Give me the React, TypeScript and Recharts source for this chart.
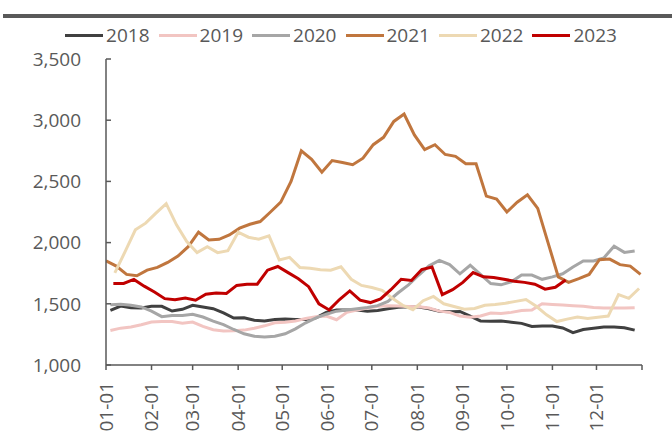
import { LineChart, Line, XAxis, YAxis } from 'recharts';

const years = ['2018', '2019', '2020', '2021', '2022', '2023'];
const colors = ['#404040', '#F2C5C2', '#A6A6A6', '#C0763E', '#EDD9B3', '#C00000'];
// first weekly sample of each year, as day of year
const startDays = [3, 3, 3, 0, 6, 5];

const monthTicks = [0, 31, 59, 90, 120, 151, 181, 212, 243, 273, 304, 334, 365];
const monthLabels = ['01-01', '02-01', '03-01', '04-01', '05-01', '06-01', '07-01', '08-01', '09-01', '10-01', '11-01', '12-01', ''];
const yTicks = [1000, 1500, 2000, 2500, 3000, 3500];

const v2018 = [1447, 1482, 1468, 1466, 1479, 1479, 1441, 1455, 1488, 1474, 1460, 1425, 1384, 1385, 1365, 1360, 1372, 1375, 1372, 1372, 1385, 1430, 1450, 1450, 1450, 1440, 1445, 1460, 1472, 1475, 1474, 1460, 1440, 1435, 1438, 1400, 1360, 1358, 1360, 1350, 1340, 1315, 1318, 1318, 1303, 1265, 1290, 1300, 1310, 1310, 1305, 1285];
const v2019 = [1282, 1301, 1310, 1329, 1351, 1356, 1356, 1342, 1351, 1315, 1288, 1277, 1280, 1285, 1300, 1320, 1345, 1350, 1360, 1380, 1395, 1400, 1370, 1430, 1450, 1465, 1480, 1485, 1482, 1478, 1475, 1465, 1440, 1430, 1400, 1390, 1400, 1425, 1420, 1430, 1445, 1450, 1500, 1495, 1490, 1485, 1480, 1470, 1465, 1465, 1465, 1468];
const v2020 = [1493, 1496, 1488, 1474, 1440, 1395, 1405, 1405, 1414, 1392, 1359, 1330, 1290, 1255, 1235, 1228, 1235, 1255, 1295, 1345, 1385, 1415, 1440, 1450, 1460, 1470, 1485, 1520, 1590, 1655, 1735, 1810, 1855, 1820, 1745, 1815, 1740, 1665, 1655, 1680, 1735, 1735, 1700, 1720, 1745, 1800, 1850, 1850, 1875, 1970, 1920, 1932];
const v2021 = [1852, 1808, 1740, 1729, 1775, 1797, 1838, 1890, 1967, 2085, 2022, 2027, 2063, 2118, 2150, 2172, 2250, 2330, 2500, 2750, 2680, 2575, 2670, 2655, 2636, 2690, 2800, 2860, 2990, 3050, 2880, 2760, 2800, 2720, 2705, 2645, 2644, 2380, 2355, 2250, 2330, 2390, 2280, 2000, 1720, 1675, 1705, 1740, 1860, 1865, 1820, 1808, 1740];
const v2022 = [1753, 1926, 2104, 2159, 2241, 2318, 2145, 2008, 1918, 1967, 1918, 1934, 2085, 2044, 2027, 2055, 1858, 1879, 1797, 1790, 1778, 1775, 1803, 1700, 1650, 1633, 1610, 1545, 1488, 1452, 1525, 1560, 1500, 1478, 1455, 1462, 1488, 1495, 1505, 1520, 1535, 1480, 1410, 1355, 1375, 1392, 1380, 1390, 1400, 1575, 1545, 1625];
const v2023 = [1666, 1666, 1699, 1644, 1597, 1542, 1534, 1548, 1529, 1578, 1589, 1584, 1650, 1660, 1660, 1775, 1805, 1755, 1705, 1640, 1500, 1450, 1535, 1605, 1530, 1510, 1540, 1615, 1700, 1690, 1780, 1800, 1575, 1615, 1675, 1755, 1720, 1715, 1700, 1685, 1675, 1660, 1620, 1635, 1695];

const values = [v2018, v2019, v2020, v2021, v2022, v2023];

const series = years.map((year, i) => ({
  year,
  color: colors[i],
  data: values[i].map((v, k) => ({ day: startDays[i] + 7 * k, v })),
}));

const FONT = '"Open Sans", "Noto Sans", sans-serif';
const TEXT = '#595959';

const MonthTick = (props: any) => {
  const { x, y, payload } = props;
  const idx = monthTicks.indexOf(payload.value);
  return (
    <text
      x={x}
      y={y}
      transform={`rotate(-90, ${x}, ${y})`}
      textAnchor="end"
      dy="0.35em"
      fill={TEXT}
      fontSize={19}
      fontFamily={FONT}
    >
      {monthLabels[idx]}
    </text>
  );
};

export default function App() {
  return (
    <div style={{ position: 'absolute', top: 0, left: 0, width: 672, height: 437, background: '#fff', fontFamily: FONT }}>
      <div style={{ position: 'absolute', top: 14, left: 3, width: 669, height: 4, background: '#595959' }} />
      <div
        style={{
          position: 'absolute',
          top: 22,
          left: 0,
          width: 672,
          height: 26,
          paddingLeft: 10,
          boxSizing: 'border-box',
          display: 'flex',
          justifyContent: 'center',
          alignItems: 'center',
          fontSize: 19,
          color: TEXT,
          zIndex: 2,
        }}
      >
        {series.map((s, i) => (
          <div key={s.year} style={{ display: 'flex', alignItems: 'center', marginRight: i < series.length - 1 ? 9 : 0 }}>
            <span style={{ display: 'inline-block', width: 38, height: 3, background: s.color, marginRight: 3 }} />
            <span>{s.year}</span>
          </div>
        ))}
      </div>
      <LineChart width={672} height={437} margin={{ top: 59, right: 30, bottom: 0, left: 26 }}>
        <XAxis
          type="number"
          dataKey="day"
          domain={[0, 365]}
          ticks={monthTicks}
          interval={0}
          allowDataOverflow
          height={72}
          tickSize={5}
          tickMargin={12}
          tick={<MonthTick />}
          axisLine={{ stroke: TEXT, strokeWidth: 1.5 }}
          tickLine={{ stroke: TEXT, strokeWidth: 1.5 }}
        />
        <YAxis
          type="number"
          domain={[1000, 3500]}
          ticks={yTicks}
          interval={0}
          width={80}
          tickSize={-5}
          tickMargin={30}
          tickFormatter={(v: number) => v.toLocaleString('en-US')}
          tick={{ fill: TEXT, fontSize: 19, fontFamily: FONT }}
          axisLine={{ stroke: TEXT, strokeWidth: 1.5 }}
          tickLine={{ stroke: TEXT, strokeWidth: 1.5 }}
        />
        {series.map((s) => (
          <Line
            key={s.year}
            data={s.data}
            dataKey="v"
            name={s.year}
            type="linear"
            stroke={s.color}
            strokeWidth={3}
            dot={false}
            activeDot={false}
            isAnimationActive={false}
          />
        ))}
      </LineChart>
    </div>
  );
}
